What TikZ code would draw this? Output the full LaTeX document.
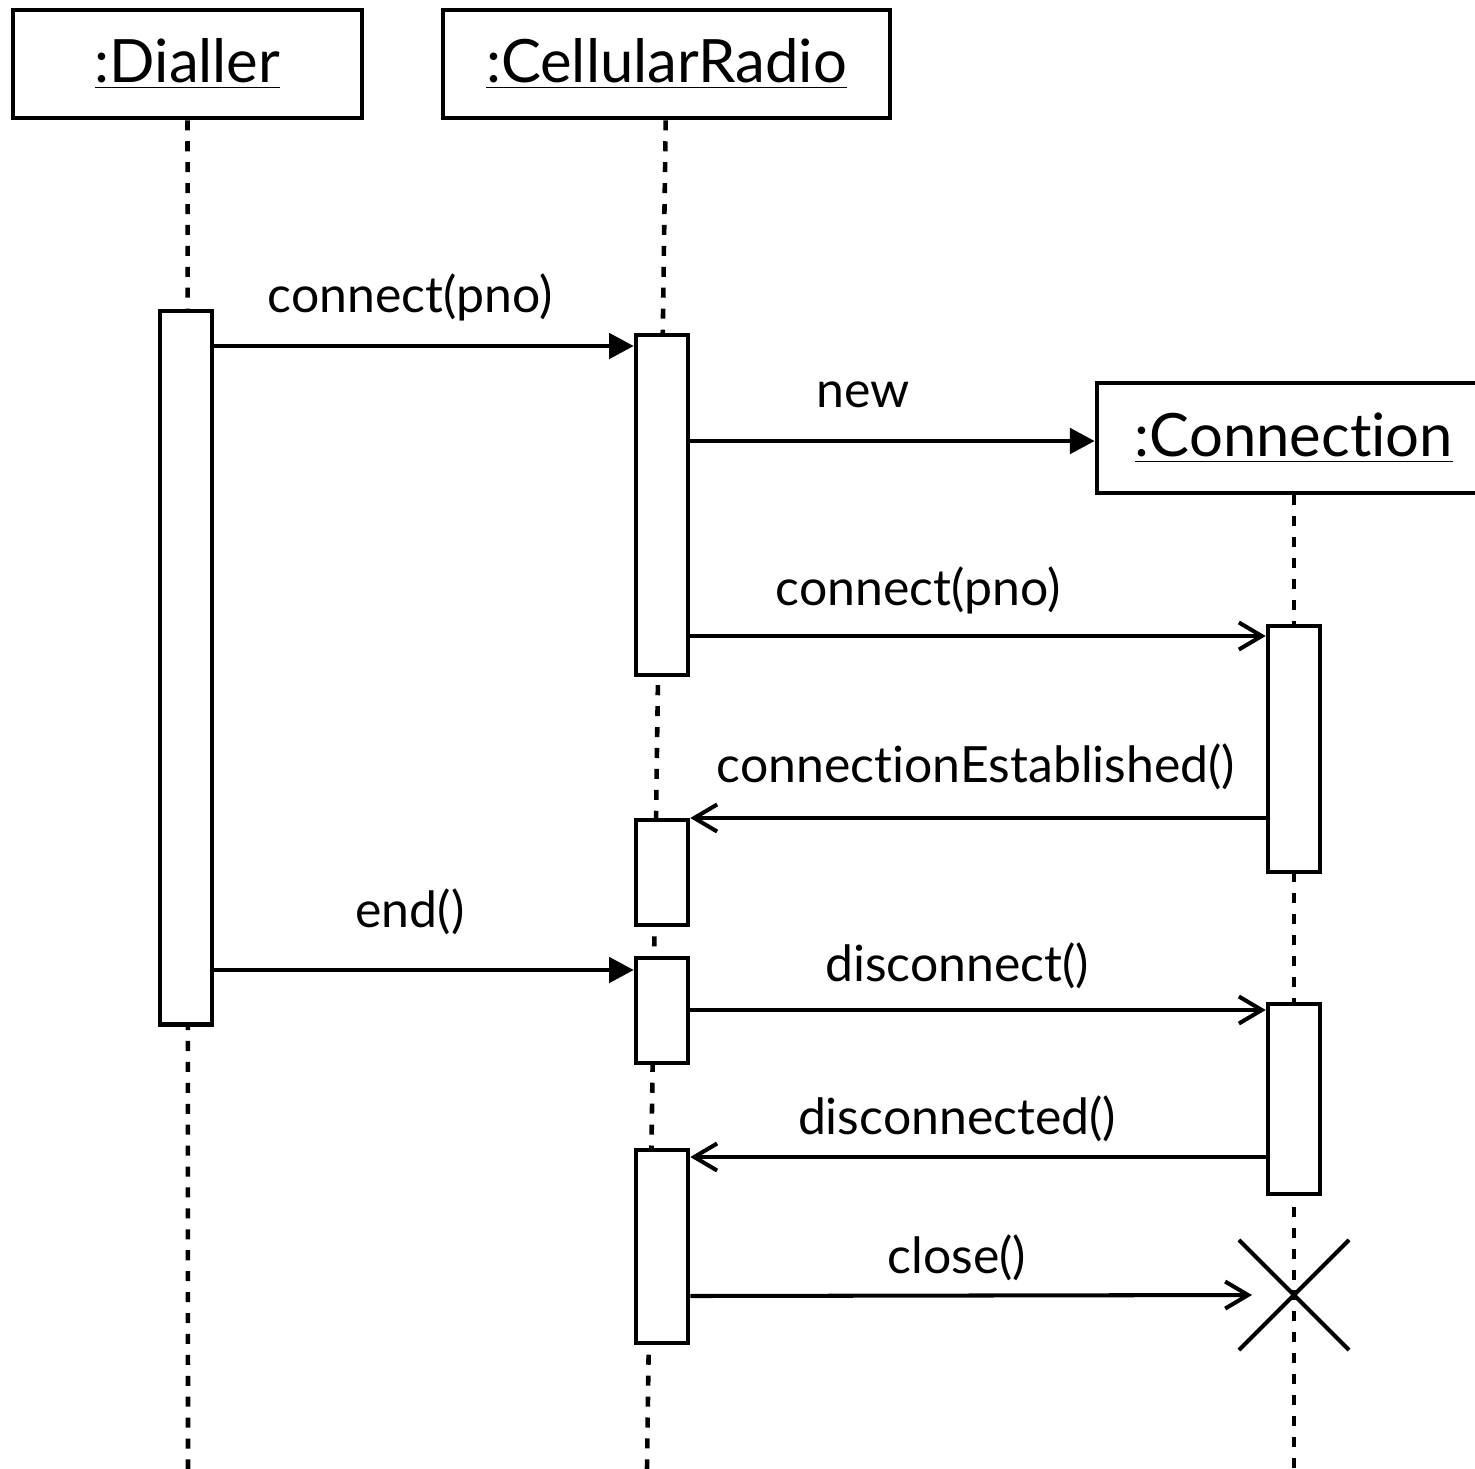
\documentclass[tikz,border=0pt]{standalone}
\usepackage{fontspec}
\setmainfont{Lato}[Ligatures={NoCommon}]
\usetikzlibrary{arrows.meta,shapes.misc}

\tikzset{
  obj/.style={draw,line width=1.3pt,minimum height=1.08cm,inner sep=0pt,font=\fontsize{17}{20}\selectfont},
  act/.style={draw,fill=white,line width=1.3pt,minimum width=0.52cm,inner sep=0pt},
  life/.style={line width=1.3pt,dash pattern=on 2.85pt off 3.1pt},
  call/.style={line width=1.15pt,-{Triangle[length=7pt,width=7.2pt]}},
  msg/.style={line width=1.15pt,-{Straight Barb[length=6.5pt,width=7.7pt,line width=1.15pt]}},
  lbl/.style={anchor=base,inner sep=0pt,font=\fontsize{14.2}{17}\selectfont},
}

\begin{document}
\begin{tikzpicture}[x=0.01cm,y=-0.01cm]
\useasboundingbox (0,0) rectangle (1475,1469);

% objects
\node[obj,minimum width=3.49cm] (dialler) at (187.5,64) {\underline{:Dialler}};
\node[obj,minimum width=4.47cm] (radio) at (666.5,64) {\underline{:CellularRadio}};
\node[obj,minimum width=3.94cm,minimum height=1.1cm] (conn) at (1294,438) {\underline{:Connection}};

% lifelines
\coordinate (dialEnd) at (188,1469);
\coordinate (radioEnd) at (647,1469);
\coordinate (connEnd) at (1294,1469);
\draw[life] (dialler) -- (dialEnd);
\draw[life] (radio) -- (radioEnd);
\draw[life] (conn) -- (connEnd);

% activations
\node[act,minimum height=7.13cm] (dialA) at (186,667.5) {};
\node[act,minimum height=3.40cm] (radA) at (662,505) {};
\node[act,minimum height=1.05cm] (radB) at (662,872.5) {};
\node[act,minimum height=1.05cm] (radC) at (662,1010.5) {};
\node[act,minimum height=1.93cm] (radD) at (662,1246.5) {};
\node[act,minimum height=2.46cm] (connA) at (1294,749) {};
\node[act,minimum height=1.90cm] (connB) at (1294,1099) {};
\node[draw,cross out,line width=1.15pt,minimum size=1.1cm,inner sep=0pt,outer sep=0pt] (kill) at (1294,1295) {};

% message levels
\path (0,346) coordinate (m1) (0,441) coordinate (m2) (0,636) coordinate (m3)
  (0,818) coordinate (m4) (0,970) coordinate (m5) (0,1010) coordinate (m6)
  (0,1157) coordinate (m7) (0,1296) coordinate (m8);

% messages
\draw[call] (dialA.east |- m1) -- (radA.west |- m1);
\draw[call] (radA.east |- m2) -- (conn.west |- m2);
\draw[msg] (radA.east |- m3) -- (connA.west |- m3);
\draw[msg] (connA.west |- m4) -- (radB.east |- m4);
\draw[call] (dialA.east |- m5) -- (radC.west |- m5);
\draw[msg] (radC.east |- m6) -- (connB.west |- m6);
\draw[msg] (connB.west |- m7) -- (radD.east |- m7);
\draw[msg] (radD.east |- m8) -- ([xshift=0.13cm]kill.west);

% labels
\node[lbl] (l1) at (410,312) {connect(pno)};
\node[lbl] (l2) at (863,407) {new};
\node[lbl] (l3) at (918,605) {connect(pno)};
\node[lbl] (l4) at (976,782) {connectionEstablished()};
\node[lbl] (l5) at (410,927) {end()};
\node[lbl] (l6) at (957,981) {disconnect()};
\node[lbl] (l7) at (957,1134) {disconnected()};
\node[lbl] (l8) at (957,1273) {close()};
\end{tikzpicture}
\end{document}
